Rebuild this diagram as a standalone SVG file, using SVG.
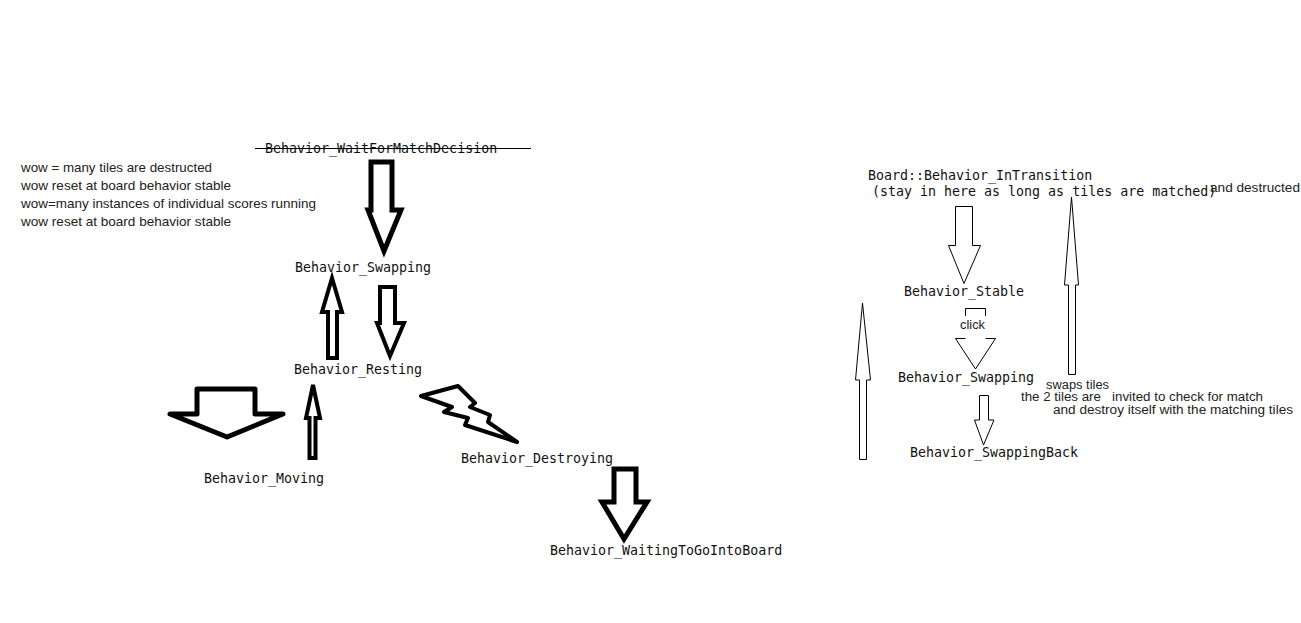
<svg xmlns="http://www.w3.org/2000/svg" width="1301" height="623" viewBox="0 0 1301 623">
<style>
.mono{font-family:"DejaVu Sans Mono","Liberation Mono",monospace;font-size:13.3px;fill:#111}
.sans{font-family:"Liberation Sans","DejaVu Sans",sans-serif;font-size:13px;fill:#222}
.small{font-size:12px}
.thick{fill:#fff;stroke:#000;stroke-width:5;stroke-linejoin:miter;stroke-miterlimit:6}
.mid{fill:#fff;stroke:#000;stroke-width:4;stroke-linejoin:miter;stroke-miterlimit:4}
.rj{stroke-linejoin:round}
.thin{fill:#fff;stroke:#000;stroke-width:1}
</style>
<rect width="1301" height="623" fill="#fff"/>
<g id="notes">
<text class="sans" x="21" y="172" textLength="191" lengthAdjust="spacingAndGlyphs">wow = many tiles are destructed</text>
<text class="sans" x="21" y="190" textLength="210" lengthAdjust="spacingAndGlyphs">wow reset at board behavior stable</text>
<text class="sans" x="21" y="208" textLength="295" lengthAdjust="spacingAndGlyphs">wow=many instances of individual scores running</text>
<text class="sans" x="21" y="226" textLength="210" lengthAdjust="spacingAndGlyphs">wow reset at board behavior stable</text>
</g>
<g id="connectors">
<polygon class="thick" points="371,162 392,162 392,210 401,210 384,251 368,210 371,210"/>
<polygon class="mid" points="332,278 342,312 337,312 337,358 328,358 328,312 322,312"/>
<polygon class="mid" points="380,287 395,287 395,323 404,323 390,356 377,323 380,323"/>
<polygon class="thick rj" points="197,389 255,389 255,414 283,414 227,437 170,414 197,414"/>
<polygon class="mid" points="313,385 320,418 315.5,418 315.5,458 309.5,458 309.5,418 306,418"/>
<polygon class="mid rj" points="421,396 458,386 475,403 470,407 490,415 488,422 517,442 465,425 468,418 444,412 452,407"/>
<polygon class="thick" points="614,469 636,469 636,502 647,502 624,539 602,502 614,502"/>
<polygon class="thin" points="955.5,206.5 972.5,206.5 972.5,245.5 980.5,245.5 964,283.5 948.5,245.5 955.5,245.5"/>
<path fill="none" stroke="#000" stroke-width="1" d="M965.5,316 V308.5 H985.5 V316"/>
<path fill="none" stroke="#000" stroke-width="1" d="M965.5,338.5 H955.5 L975.5,369 L995.5,338.5 H985.5"/>
<polygon class="thin" points="979.5,395.5 988.5,395.5 988.5,420 994,420 983.5,445 974.5,420 979.5,420"/>
<polygon class="thin" points="862.5,303 870.5,380 866.5,380 866.5,459.5 859.5,459.5 859.5,380 855.5,380"/>
<polygon class="thin" points="1071.5,197 1078.5,285 1075.5,285 1075.5,374.5 1068.5,374.5 1068.5,285 1064.5,285"/>
</g>
<g id="wait-for-match">
<text class="mono" x="265" y="152.5">Behavior_WaitForMatchDecision</text>
<line x1="255" y1="148.5" x2="531" y2="148.5" stroke="#000" stroke-width="1"/>
</g>
<g id="swapping"><text class="mono" x="295" y="272">Behavior_Swapping</text></g>
<g id="resting"><text class="mono" x="294" y="374">Behavior_Resting</text></g>
<g id="moving"><text class="mono" x="204" y="483">Behavior_Moving</text></g>
<g id="destroying"><text class="mono" x="461" y="463">Behavior_Destroying</text></g>
<g id="waiting"><text class="mono" x="550" y="555">Behavior_WaitingToGoIntoBoard</text></g>
<g id="in-transition">
<text class="mono" x="868" y="180">Board::Behavior_InTransition</text>
<text class="mono" x="872" y="195.5">(stay in here as long as tiles are matched)</text>
<text class="sans" x="1210" y="192" textLength="90" lengthAdjust="spacingAndGlyphs">and destructed</text>
</g>
<g id="stable"><text class="mono" x="904" y="296">Behavior_Stable</text></g>
<g id="click"><text class="sans" x="960" y="329" textLength="25" lengthAdjust="spacingAndGlyphs">click</text></g>
<g id="swapping-right"><text class="mono" x="898" y="381.5">Behavior_Swapping</text></g>
<g id="swapping-back"><text class="mono" x="910" y="457">Behavior_SwappingBack</text></g>
<g id="swap-notes">
<text class="sans small" x="1046" y="388.5" textLength="63" lengthAdjust="spacingAndGlyphs">swaps tiles</text>
<text class="sans small" x="1021" y="401" textLength="242" lengthAdjust="spacingAndGlyphs" xml:space="preserve">the 2 tiles are   invited to check for match</text>
<text class="sans small" x="1053" y="413.5" textLength="240" lengthAdjust="spacingAndGlyphs">and destroy itself with the matching tiles</text>
</g>
</svg>
